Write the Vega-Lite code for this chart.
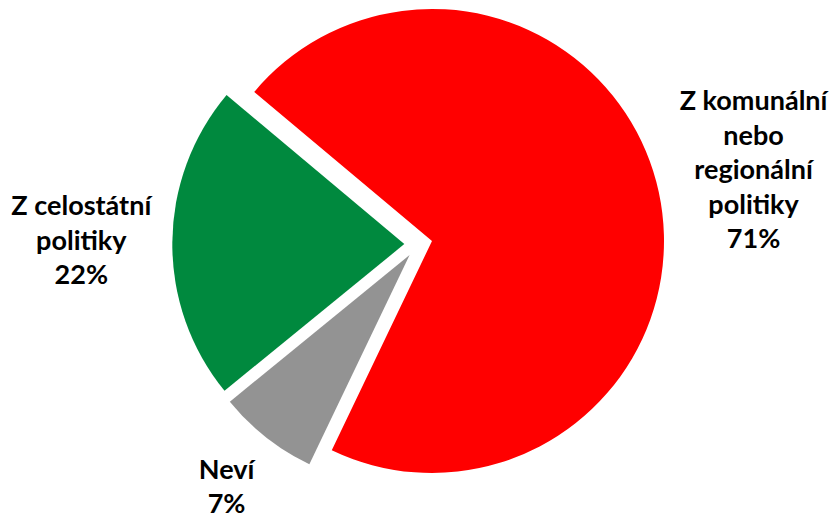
{
  "$schema": "https://vega.github.io/schema/vega-lite/v6.json",
  "width": 831,
  "height": 515,
  "autosize": "none",
  "padding": 0,
  "background": "white",
  "view": {"stroke": null},
  "data": {"values": [
    {"kategorie": "Z komunální nebo regionální politiky", "popisek": "Z komunální\nnebo\nregionální\npolitiky\n71%", "podil": 71, "poradi": 1},
    {"kategorie": "Neví", "popisek": "Neví\n7%", "podil": 7, "poradi": 2},
    {"kategorie": "Z celostátní politiky", "popisek": "Z celostátní\npolitiky\n22%", "podil": 22, "poradi": 3}
  ]},
  "encoding": {
    "theta": {"field": "podil", "type": "quantitative", "stack": true, "scale": {"range": [-0.8727, 5.4105]}},
    "order": {"field": "poradi", "type": "quantitative", "sort": "ascending"}
  },
  "layer": [
    {
      "mark": {"type": "arc", "outerRadius": 232, "xOffset": 16.5, "yOffset": -16.5},
      "encoding": {
        "color": {"field": "kategorie", "type": "nominal", "legend": null, "scale": {"domain": ["Z komunální nebo regionální politiky", "Neví", "Z celostátní politiky"], "range": ["#FF0000", "#939393", "#00893E"]}},
        "opacity": {"condition": {"test": "datum.poradi === 1", "value": 1}, "value": 0}
      }
    },
    {
      "mark": {"type": "arc", "outerRadius": 232, "xOffset": -5.9, "yOffset": -2.5},
      "encoding": {
        "color": {"field": "kategorie", "type": "nominal", "legend": null, "scale": {"domain": ["Z komunální nebo regionální politiky", "Neví", "Z celostátní politiky"], "range": ["#FF0000", "#939393", "#00893E"]}},
        "opacity": {"condition": {"test": "datum.poradi === 2", "value": 1}, "value": 0}
      }
    },
    {
      "mark": {"type": "arc", "outerRadius": 232, "xOffset": -11.2, "yOffset": -13.4},
      "encoding": {
        "color": {"field": "kategorie", "type": "nominal", "legend": null, "scale": {"domain": ["Z komunální nebo regionální politiky", "Neví", "Z celostátní politiky"], "range": ["#FF0000", "#939393", "#00893E"]}},
        "opacity": {"condition": {"test": "datum.poradi === 3", "value": 1}, "value": 0}
      }
    },
    {
      "mark": {"type": "text", "radius": 329, "xOffset": 16.5, "yOffset": -16.5, "dy": -69, "font": "Lato", "fontWeight": "bold", "fontSize": 27, "lineBreak": "\n", "lineHeight": 34.5, "align": "center", "baseline": "middle", "color": "#000000"},
      "encoding": {"text": {"condition": {"test": "datum.poradi === 1", "field": "popisek"}, "value": ""}}
    },
    {
      "mark": {"type": "text", "radius": 296, "xOffset": -5.9, "yOffset": -2.5, "dy": -17, "font": "Lato", "fontWeight": "bold", "fontSize": 27, "lineBreak": "\n", "lineHeight": 34.5, "align": "center", "baseline": "middle", "color": "#000000"},
      "encoding": {"text": {"condition": {"test": "datum.poradi === 2", "field": "popisek"}, "value": ""}}
    },
    {
      "mark": {"type": "text", "radius": 323, "xOffset": -11.2, "yOffset": -13.4, "dy": -34.5, "font": "Lato", "fontWeight": "bold", "fontSize": 27, "lineBreak": "\n", "lineHeight": 34.5, "align": "center", "baseline": "middle", "color": "#000000"},
      "encoding": {"text": {"condition": {"test": "datum.poradi === 3", "field": "popisek"}, "value": ""}}
    }
  ]
}
